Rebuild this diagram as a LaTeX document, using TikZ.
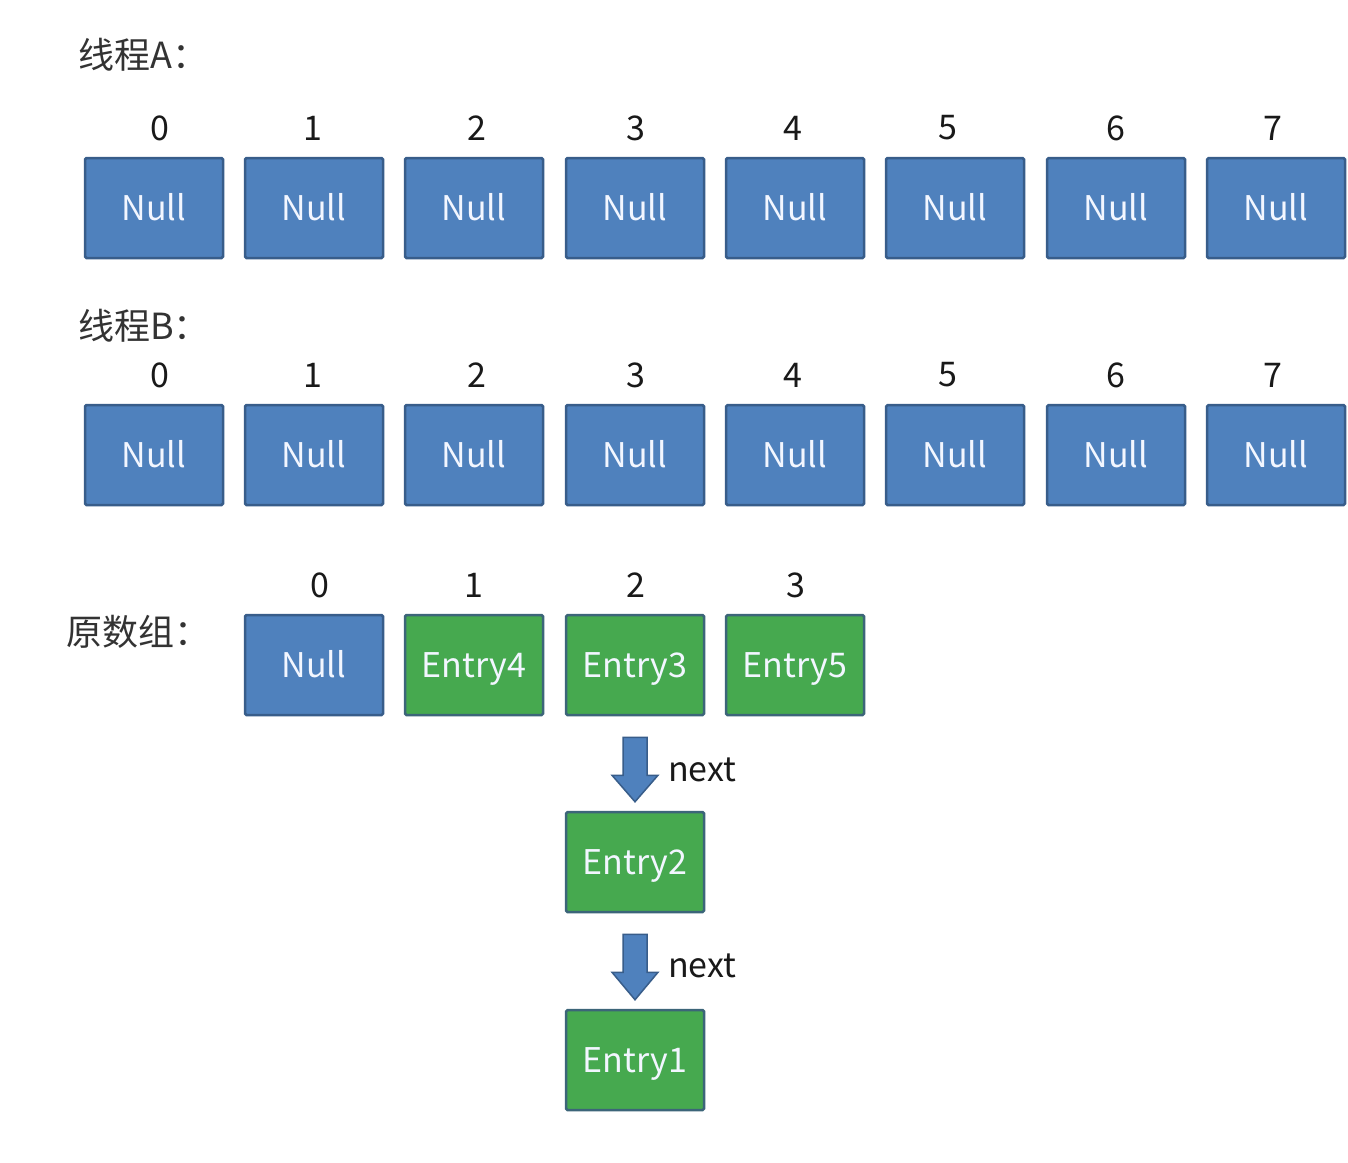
\documentclass[tikz,border=0pt]{standalone}
\usepackage{fontspec}
\setmainfont{Noto Sans CJK SC}
\usetikzlibrary{calc}
\definecolor{nullblue}{HTML}{4F81BD}
\definecolor{nullborder}{HTML}{385D8A}
\definecolor{entrygreen}{HTML}{46A94F}
\definecolor{entryborder}{HTML}{3C6579}
\definecolor{celltext}{HTML}{F2F6FF}
\begin{document}
\begin{tikzpicture}[x=1pt,y=-1pt,
  cell/.style={draw=nullborder, line width=2.5pt, minimum width=138pt, minimum height=100pt,
    inner sep=0pt, text=celltext, font=\fontsize{34}{40}\selectfont, rounded corners=1.5pt,
    text height=24pt, text depth=0pt},
  nullcell/.style={cell, fill=nullblue},
  entrycell/.style={cell, fill=entrygreen, draw=entryborder},
  idx/.style={font=\fontsize{34}{40}\selectfont, text=black!90, inner sep=0pt},
  title/.style={anchor=west, font=\fontsize{36}{40}\selectfont, text=black!80, inner sep=0pt},
  blockarrow/.style={fill=nullblue, draw=nullborder, line width=1.5pt, line join=miter},
  nextlabel/.style={anchor=west, font=\fontsize{34}{40}\selectfont, text=black!90, inner sep=0pt}]
\useasboundingbox[fill=white] (0,0) rectangle (1348,1162);

% titles
\node[title] (tA) at (78,55) {线程A：};
\node[title] (tB) at (78,326) {线程B：};
\node[title] (tO) at (66,632) {原数组：};

% row A and row B
\foreach \i/\cx/\lx in {0/154/160,1/314/313,2/474/477,3/635/636,4/795/793,5/955/948,6/1116/1116,7/1276/1273}{
  \node[idx] (ia\i) at (\lx,128) {\i};
  \node[nullcell] (a\i) at (\cx,208) {Null};
  \node[idx] (ib\i) at (\lx,375) {\i};
  \node[nullcell] (b\i) at (\cx,455) {Null};
}

% original array
\node[idx] (io0) at (320,585) {0};
\node[idx] (io1) at (474,585) {1};
\node[idx] (io2) at (636,585) {2};
\node[idx] (io3) at (796,585) {3};
\node[nullcell] (o0) at (314,665) {Null};
\node[entrycell] (e4) at (474,665) {Entry4};
\node[entrycell] (e3) at (635,665) {Entry3};
\node[entrycell] (e5) at (795,665) {Entry5};
\node[entrycell] (e2) at (635,862) {Entry2};
\node[entrycell] (e1) at (635,1060) {Entry1};

% next arrows
\draw[blockarrow] ($(e3.south)+(-12,21)$) -- ($(e3.south)+(-12,59)$) -- ($(e3.south)+(-23,59)$)
  -- ($(e2.north)+(0,-9)$) -- ($(e3.south)+(23,59)$) -- ($(e3.south)+(12,59)$)
  -- ($(e3.south)+(12,21)$) -- cycle;
\node[nextlabel] (n1) at (668,770) {next};
\draw[blockarrow] ($(e2.south)+(-12,21)$) -- ($(e2.south)+(-12,59)$) -- ($(e2.south)+(-23,59)$)
  -- ($(e1.north)+(0,-9)$) -- ($(e2.south)+(23,59)$) -- ($(e2.south)+(12,59)$)
  -- ($(e2.south)+(12,21)$) -- cycle;
\node[nextlabel] (n2) at (668,966) {next};
\end{tikzpicture}
\end{document}
